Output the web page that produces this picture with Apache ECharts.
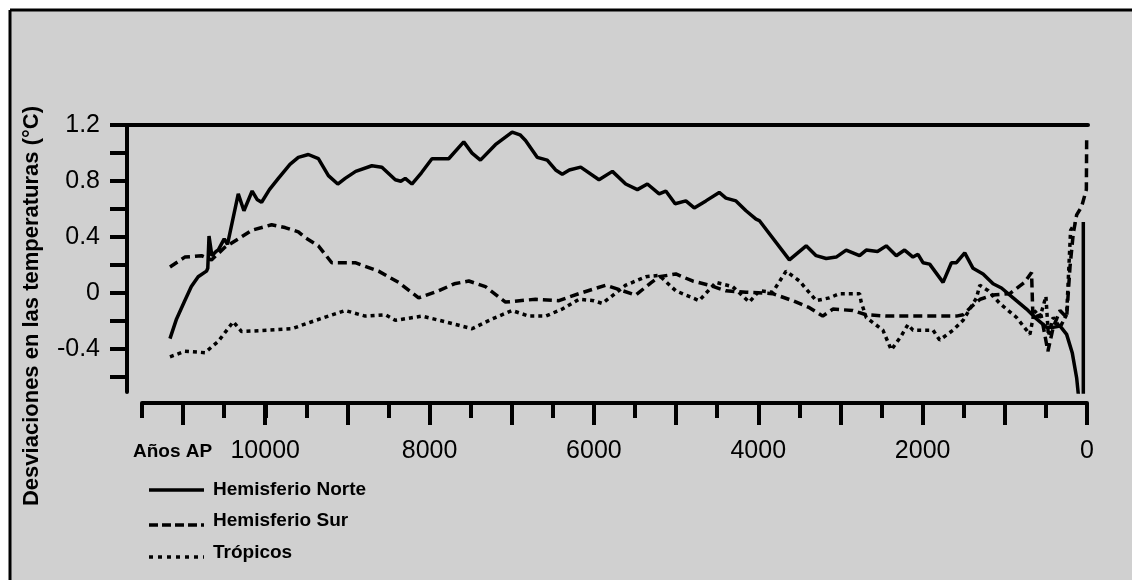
<!DOCTYPE html>
<html><head><meta charset="utf-8">
<script src="https://cdn.jsdelivr.net/npm/echarts/dist/echarts.min.js"></script>
<style>html,body{margin:0;padding:0;background:#fff;}#c{width:1132px;height:580px;}</style>
</head><body><div id="c"></div>
<script>
// [años AP, desviación °C]
const nhData = [[11160,-0.32],[11080,-0.18],[10980,-0.05],[10900,0.05],[10817,0.12],[10716,0.16],[10700,0.18],[10685,0.41],[10650,0.27],[10600,0.30],[10573,0.31],[10500,0.39],[10460,0.35],[10329,0.71],[10260,0.59],[10160,0.73],[10100,0.67],[10045,0.65],[9950,0.74],[9841,0.82],[9700,0.92],[9598,0.97],[9476,0.99],[9354,0.96],[9232,0.84],[9118,0.78],[9028,0.82],[8900,0.87],[8703,0.91],[8581,0.90],[8418,0.81],[8350,0.80],[8297,0.82],[8216,0.78],[8100,0.86],[7972,0.96],[7768,0.96],[7585,1.08],[7484,1.00],[7382,0.95],[7200,1.06],[6996,1.15],[6900,1.13],[6833,1.09],[6691,0.97],[6569,0.95],[6467,0.88],[6386,0.85],[6300,0.88],[6162,0.90],[5939,0.81],[5776,0.87],[5614,0.78],[5472,0.74],[5350,0.78],[5207,0.71],[5126,0.73],[5012,0.64],[4882,0.66],[4780,0.61],[4638,0.66],[4476,0.72],[4394,0.68],[4272,0.66],[4150,0.59],[4028,0.53],[3988,0.52],[3622,0.24],[3418,0.34],[3296,0.27],[3174,0.25],[3052,0.26],[2931,0.31],[2768,0.27],[2687,0.31],[2550,0.30],[2443,0.34],[2321,0.27],[2220,0.31],[2118,0.26],[2057,0.28],[1996,0.22],[1915,0.21],[1752,0.08],[1650,0.22],[1589,0.22],[1488,0.29],[1387,0.18],[1265,0.14],[1143,0.07],[1041,0.04],[899,-0.03],[736,-0.11],[614,-0.18],[492,-0.24],[411,-0.24],[329,-0.23],[248,-0.29],[180,-0.42],[126,-0.60],[100,-0.75],[45,-0.75],[45,0.51]];
const shData = [[11160,0.19],[10980,0.26],[10777,0.27],[10655,0.24],[10492,0.33],[10300,0.40],[10167,0.45],[9923,0.49],[9760,0.47],[9598,0.44],[9516,0.40],[9354,0.34],[9191,0.22],[8906,0.22],[8622,0.16],[8378,0.08],[8134,-0.03],[7890,0.02],[7700,0.07],[7524,0.09],[7321,0.05],[7077,-0.06],[6711,-0.04],[6427,-0.05],[6183,0.00],[5858,0.06],[5700,0.03],[5492,-0.01],[5300,0.08],[5207,0.12],[5004,0.14],[4801,0.09],[4598,0.06],[4394,0.02],[4150,0.01],[3826,0.00],[3582,-0.05],[3378,-0.10],[3216,-0.16],[3093,-0.11],[2850,-0.12],[2687,-0.15],[2443,-0.16],[2037,-0.16],[1589,-0.16],[1508,-0.15],[1400,-0.09],[1300,-0.04],[1150,-0.01],[939,0.00],[760,0.08],[675,0.15],[658,-0.17],[560,-0.15],[476,-0.41],[411,-0.24],[329,-0.12],[248,-0.17],[207,0.19],[167,0.43],[126,0.56],[65,0.62],[8,0.74],[4,1.12]];
const trData = [[11160,-0.45],[10980,-0.41],[10735,-0.42],[10573,-0.34],[10390,-0.20],[10289,-0.27],[9963,-0.26],[9679,-0.25],[9435,-0.20],[9028,-0.12],[8784,-0.16],[8540,-0.15],[8418,-0.19],[8094,-0.16],[7809,-0.20],[7484,-0.25],[7240,-0.18],[6996,-0.12],[6793,-0.16],[6589,-0.16],[6386,-0.11],[6183,-0.04],[6000,-0.05],[5898,-0.07],[5614,0.06],[5370,0.12],[5207,0.13],[5004,0.02],[4720,-0.05],[4516,0.08],[4313,0.05],[4110,-0.06],[3988,0.02],[3826,0.01],[3662,0.16],[3500,0.09],[3296,-0.05],[3134,-0.03],[3012,0.00],[2768,0.00],[2748,-0.06],[2687,-0.17],[2484,-0.26],[2382,-0.40],[2260,-0.30],[2179,-0.22],[2118,-0.26],[1874,-0.26],[1793,-0.33],[1630,-0.26],[1508,-0.19],[1345,-0.03],[1305,0.06],[1200,0.02],[1061,-0.07],[857,-0.17],[695,-0.29],[640,-0.12],[573,-0.17],[500,-0.02],[470,-0.30],[411,-0.17],[329,-0.24],[248,-0.15],[200,0.45],[150,0.50]];
const seriesNames = ['Hemisferio Norte','Hemisferio Sur','Trópicos'];
const yTickLabels = ['1.2','0.8','0.4','0','-0.4'];
const xTickLabels = ['10000','8000','6000','4000','2000','0'];
const yTitle = 'Desviaciones en las temperaturas (°C)';
const xTitle = 'Años AP';

const FONT = '"Liberation Sans", Arial, Helvetica, sans-serif';
const INK = '#000';
const chart = echarts.init(document.getElementById('c'), null, {renderer:'canvas'});
const hidden = {show:false};
const lineStyles = [
  {color:INK, width:3.5, type:'solid'},
  {color:INK, width:3.5, type:[9,5]},
  {color:INK, width:3.5, type:[4,4]}
];
const datas = [nhData, shData, trData];

const legendGraphics = [];
const legendY = [490, 521, 553];
const legendDash = [null, [9,4], [4,5]];
seriesNames.forEach((n,i)=>{
  legendGraphics.push({type:'line', z:10, shape:{x1:149, y1:legendY[i]+(i===0?0:4), x2:204, y2:legendY[i]+(i===0?0:4)},
    style:{stroke:INK, lineWidth:3.5, lineDash:legendDash[i]}});
  legendGraphics.push({type:'text', z:10, x:213, y:legendY[i],
    style:{text:n, fontSize:19, fontWeight:'bold', fontFamily:FONT, fill:INK, align:'left', verticalAlign:'middle'}});
});

chart.setOption({
  animation:false,
  backgroundColor:'transparent',
  graphic:[
    {type:'rect', z:-10, shape:{x:10, y:10, width:1122, height:570}, style:{fill:'#d0d0d0'}},
    {type:'line', z:-9, shape:{x1:10, y1:10, x2:1132, y2:10}, style:{stroke:INK, lineWidth:3}},
    {type:'line', z:-9, shape:{x1:10, y1:10, x2:10, y2:580}, style:{stroke:INK, lineWidth:3}},
    {type:'text', z:10, x:32, y:306, rotation:Math.PI/2,
      style:{text:yTitle, fontSize:22, fontWeight:'bold', fontFamily:FONT, fill:INK, align:'center', verticalAlign:'middle'}},
    {type:'text', z:10, x:133, y:452,
      style:{text:xTitle, fontSize:19, fontWeight:'bold', fontFamily:FONT, fill:INK, align:'left', verticalAlign:'middle'}}
  ].concat(legendGraphics),
  grid:[
    {left:127, right:44, top:125, height:267, containLabel:false},
    {left:127, right:44, top:125, height:252, containLabel:false},
    {left:142, right:45, top:380, height:23, containLabel:false},
    {left:183, right:45, top:380, height:23, containLabel:false}
  ],
  xAxis:[
    {gridIndex:0, type:'value', min:-12, max:11683, inverse:true, position:'top',
      axisLine:{show:true, onZero:false, lineStyle:{color:INK, width:4}}, axisTick:hidden, axisLabel:hidden, splitLine:hidden},
    {gridIndex:1, type:'value', min:-12, max:11683, inverse:true, show:false},
    {gridIndex:2, type:'value', min:0, max:11500, interval:500, inverse:true, position:'bottom',
      axisLine:{show:true, onZero:false, lineStyle:{color:INK, width:4}},
      axisTick:{show:true, length:15, lineStyle:{color:INK, width:4}}, axisLabel:hidden, splitLine:hidden},
    {gridIndex:3, type:'value', min:0, max:11000, interval:1000, inverse:true, position:'bottom',
      axisLine:{show:false, onZero:false},
      axisTick:{show:true, length:22, lineStyle:{color:INK, width:4}},
      axisLabel:{show:true, margin:36, fontSize:25, fontFamily:FONT, color:INK,
        formatter:v=>xTickLabels.includes(String(v))?String(v):''},
      splitLine:hidden}
  ],
  yAxis:[
    {gridIndex:0, type:'value', min:-0.7, max:1.2,
      axisLine:{show:true, onZero:false, lineStyle:{color:INK, width:4}}, axisTick:hidden, axisLabel:hidden, splitLine:hidden},
    {gridIndex:1, type:'value', min:-0.6, max:1.2, interval:0.2,
      axisLine:{show:false, onZero:false},
      axisTick:{show:true, length:17, lineStyle:{color:INK, width:4}},
      axisLabel:{show:true, margin:27, fontSize:25, fontFamily:FONT, color:INK,
        formatter:v=>{const s=String(Math.round(v*10)/10);return yTickLabels.includes(s)?s:'';}},
      splitLine:hidden},
    {gridIndex:2, type:'value', show:false, min:0, max:1},
    {gridIndex:3, type:'value', show:false, min:0, max:1}
  ],
  series: datas.map((d,i)=>({
    name:seriesNames[i], type:'line', xAxisIndex:0, yAxisIndex:0, data:d,
    showSymbol:false, symbol:'none', smooth:false, clip:true,
    lineStyle:lineStyles[i], z:3+i
  }))
});
</script>
</body></html>
